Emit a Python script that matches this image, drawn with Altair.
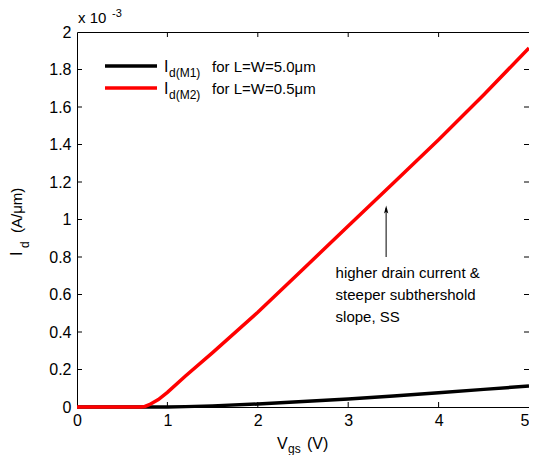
import altair as alt
import pandas as pd

# Data (Id in units of 1e-3 A/um)
vgs = [0, 0.5, 0.7, 0.75, 0.8, 0.9, 1.0, 1.2, 1.5, 2.0, 2.5, 3.0, 3.5, 4.0, 4.5, 5.0]
id_m1 = [0, 0, 0, 0, 0, 0, 0.0005, 0.002, 0.006, 0.016, 0.029, 0.043, 0.059, 0.076, 0.094, 0.112]
id_m2 = [0, 0, 0, 0.003, 0.012, 0.04, 0.078, 0.165, 0.29, 0.505, 0.735, 0.965, 1.195, 1.425, 1.665, 1.915]
series = ["M1", "M2"]
legend_sub = ["d(M1)", "d(M2)"]
legend_txt = ["for L=W=5.0\u03bcm", "for L=W=0.5\u03bcm"]
colors = ["black", "red"]
x_ticks = [0, 1, 2, 3, 4, 5]
y_ticks = [0, 0.2, 0.4, 0.6, 0.8, 1.0, 1.2, 1.4, 1.6, 1.8, 2.0]

FONT = "Liberation Sans"
W, H = 452, 375

df = pd.DataFrame(
    {"vgs": vgs * 2, "id": id_m1 + id_m2, "s": ["M1"] * len(vgs) + ["M2"] * len(vgs)}
)

xs = alt.Scale(domain=[0, 5], nice=False, zero=False)
ys = alt.Scale(domain=[0, 2], nice=False)

XA = alt.Axis(
    values=x_ticks, domain=False, ticks=False, grid=False, labelFont=FONT,
    labelFontSize=16, labelColor="black", labelPadding=5, title=None,
    labelOverlap=False, labelFlush=False,
    labelExpr="format(datum.value, '~g')",
    labelAlign={"condition": {"test": "datum.value >= 5", "value": "right"}, "value": "center"},
)
YA = alt.Axis(
    values=y_ticks, domain=False, ticks=False, grid=False, labelFont=FONT,
    labelFontSize=16, labelColor="black", labelPadding=6, title=None,
    labelOverlap=False, labelFlush=False,
    labelExpr="format(datum.value, '~g')",
)

lines = alt.Chart(df).mark_line(strokeWidth=3.5).encode(
    x=alt.X("vgs:Q", scale=xs, axis=XA),
    y=alt.Y("id:Q", scale=ys, axis=YA),
    color=alt.Color("s:N", scale=alt.Scale(domain=series, range=colors), legend=None),
    order=alt.Order("s:N"),
)

# inward ticks
xt = pd.DataFrame({"v": x_ticks[1:-1]})
yt = pd.DataFrame({"v": y_ticks[1:-1]})
tick_b = alt.Chart(xt).mark_rule(color="black", strokeWidth=1).encode(
    x=alt.X("v:Q", scale=xs, axis=XA), y=alt.value(H), y2=alt.value(H - 5))
tick_t = alt.Chart(xt).mark_rule(color="black", strokeWidth=1).encode(
    x=alt.X("v:Q", scale=xs, axis=XA), y=alt.value(0), y2=alt.value(5))
tick_l = alt.Chart(yt).mark_rule(color="black", strokeWidth=1).encode(
    y=alt.Y("v:Q", scale=ys, axis=YA), x=alt.value(0), x2=alt.value(5))
tick_r = alt.Chart(yt).mark_rule(color="black", strokeWidth=1).encode(
    y=alt.Y("v:Q", scale=ys, axis=YA), x=alt.value(W), x2=alt.value(W - 5))


def txt(t, x, y, size=15, angle=None):
    kw = dict(font=FONT, fontSize=size, align="left", baseline="alphabetic", color="black")
    if angle is not None:
        kw["angle"] = angle
    return alt.Chart(pd.DataFrame({"t": [t]})).mark_text(**kw).encode(
        x=alt.value(x), y=alt.value(y), text="t:N")


# legend
legend_layers = []
for i in range(2):
    yy = 34 + 22 * i
    legend_layers.append(
        alt.Chart(pd.DataFrame({"s": [series[i]]})).mark_rule(strokeWidth=3.5, color=colors[i]).encode(
            x=alt.value(28), x2=alt.value(80), y=alt.value(yy))
    )
    legend_layers.append(txt("I", 87, yy + 6, 16))
    legend_layers.append(txt(legend_sub[i], 92, yy + 11, 12))
    legend_layers.append(txt(legend_txt[i], 135, yy + 6, 15))

# annotation arrow
arrow_df = pd.DataFrame({"x": [3.42], "y1": [0.80], "y2": [1.06]})
shaft = alt.Chart(arrow_df).mark_rule(color="#555555", strokeWidth=1.5).encode(
    x=alt.X("x:Q", scale=xs, axis=XA), y=alt.Y("y1:Q", scale=ys, axis=YA), y2="y2:Q")
head = alt.Chart(pd.DataFrame({"x": [3.42], "y": [1.05]})).mark_point(
    shape="M0,-1L0.45,0.7L0,0.35L-0.45,0.7Z", filled=True, size=90, color="black", opacity=1).encode(
    x=alt.X("x:Q", scale=xs, axis=XA), y=alt.Y("y:Q", scale=ys, axis=YA))
note = alt.Chart(pd.DataFrame({"x": [2.86], "y": [0.715],
                               "t": ["higher drain current &\nsteeper subthershold\nslope, SS"]})).mark_text(
    font=FONT, fontSize=15, align="left", baseline="middle", lineBreak="\n", lineHeight=22, color="black").encode(
    x=alt.X("x:Q", scale=xs, axis=XA), y=alt.Y("y:Q", scale=ys, axis=YA), text="t:N")

# axis titles and exponent
titles = [
    txt("I", -55, 224, 16, 270),
    txt("d", -48, 216, 12, 270),
    txt("(A/\u03bcm)", -55, 201, 15, 270),
    txt("V", 200, H + 42, 16),
    txt("gs", 211, H + 46, 12),
    txt("(V)", 230, H + 42, 16),
    txt("x 10", 1, -9, 15),
    txt("-3", 35, -15, 11),
]

chart = alt.layer(
    lines, tick_b, tick_t, tick_l, tick_r, *legend_layers, shaft, head, note, *titles,
).properties(
    width=W, height=H,
    autosize=alt.AutoSizeParams(type="none"),
    padding={"left": 69, "top": 24, "right": 0, "bottom": 48},
    background="white",
).configure_view(stroke="black", strokeWidth=1)

chart.save("out.html", embed_options={"renderer": "svg", "actions": False})
